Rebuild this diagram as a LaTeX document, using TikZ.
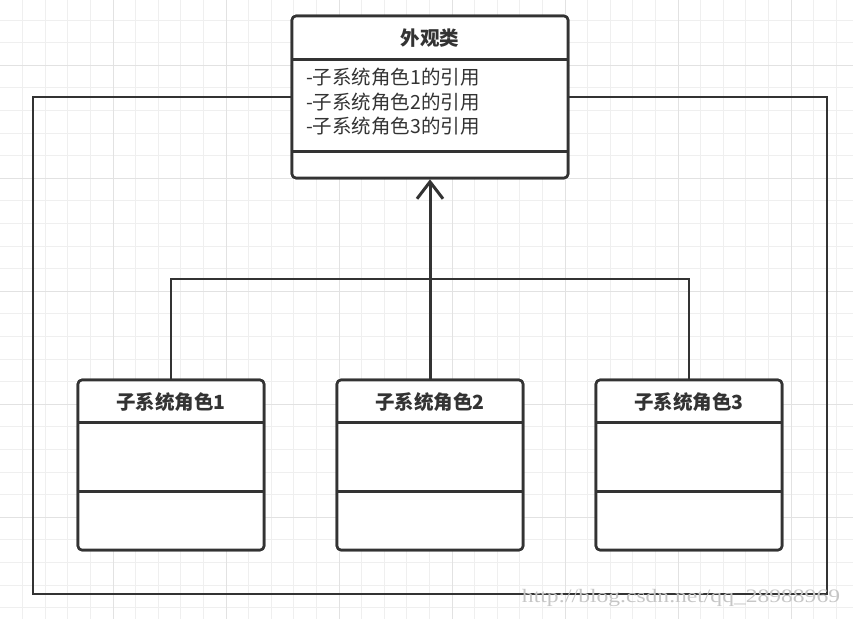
\documentclass[tikz,border=0pt]{standalone}
\usepackage{fontspec}
\setmainfont{Noto Sans CJK SC}
\newfontfamily\markfont[FakeStretch=1.24]{Liberation Serif}
\usetikzlibrary{positioning, arrows.meta}

\definecolor{linegray}{HTML}{333333}
\definecolor{gridminor}{HTML}{EFEFEF}
\definecolor{gridmajor}{HTML}{E2E2E2}

\begin{document}
\begin{tikzpicture}[%
		x=1pt, y=-1pt,
		umlclass/.style={
			rectangle,
			rounded corners=4pt,
			line width=2.6pt,
			draw=linegray,
			fill=white,
			inner sep=0pt,
			minimum width=186pt,
			minimum height=170pt
		},
		facadeclass/.style={
			umlclass,
			minimum width=276pt,
			minimum height=162pt
		},
		classname/.style={
			text=linegray,
			font=\fontsize{19.5}{21}\selectfont\bfseries,
			inner sep=0pt
		},
		attrtext/.style={
			text=linegray,
			font=\fontsize{19.5}{24.5}\selectfont,
			align=left,
			anchor=west,
			inner sep=0pt
		},
		divider/.style={
			line width=2.6pt,
			draw=linegray
		},
		link/.style={
			line width=2.6pt,
			draw=linegray
		},
		inherit/.style={
			line width=3pt,
			draw=linegray,
			-{Straight Barb[length=17pt,width=26pt,line width=3pt]}
		},
		thick]

		\useasboundingbox (0,0) rectangle (853,619);
		\fill[white] (0,0) rectangle (853,619);

		% GRID
		\foreach \i in {1,...,37}
			\draw[gridminor, line width=1pt] (22.6*\i,0) -- (22.6*\i,619);
		\foreach \j in {1,...,27}
			\draw[gridminor, line width=1pt] (0,22.6*\j-2.6) -- (853,22.6*\j-2.6);
		\foreach \i in {5,10,...,35}
			\draw[gridmajor, line width=1pt] (22.6*\i,0) -- (22.6*\i,619);
		\foreach \j in {3,8,...,23}
			\draw[gridmajor, line width=1pt] (0,22.6*\j-2.6) -- (853,22.6*\j-2.6);

		% CLASSES
		\node (facade) [facadeclass] at (430,97) {};
		\node (sub1) [umlclass] at (171,465) {};
		\node (sub2) [umlclass] at (430,465) {};
		\node (sub3) [umlclass] at (689,465) {};

		\coordinate (bl) at (33,594);
		\coordinate (br) at (827,594);
		\coordinate (fork) at (430,279);

		% BOUNDARY
		\draw[link] (facade.west) -| (bl) -- (br) |- (facade.east);

		% LINKS
		\draw[link] (sub1.north) -- (sub1.north |- fork) -- (sub3.north |- fork) -- (sub3.north);
		\draw[inherit] (sub2.north) -- (facade.south);

		% redraw classes on top
		\node [facadeclass] at (facade) {};
		\foreach \s in {sub1,sub2,sub3}
			\node [umlclass] at (\s) {};

		% DIVIDERS
		\draw[divider] ([yshift=-45pt]facade.north west) -- ([yshift=-45pt]facade.north east);
		\draw[divider] ([yshift=28pt]facade.south west) -- ([yshift=28pt]facade.south east);
		\foreach \s in {sub1,sub2,sub3} {
			\draw[divider] ([yshift=-44pt]\s.north west) -- ([yshift=-44pt]\s.north east);
			\draw[divider] ([yshift=60pt]\s.south west) -- ([yshift=60pt]\s.south east);
		}

		% TEXTS
		\node (facade-name) [classname] at ([yshift=-23pt]facade.north) {外观类};
		\node (facade-attr) [attrtext] at ([xshift=15pt,yshift=-5pt]facade.west) {-子系统角色1的引用\\-子系统角色2的引用\\-子系统角色3的引用};
		\node (sub1-name) [classname] at ([yshift=-23pt]sub1.north) {子系统角色1};
		\node (sub2-name) [classname] at ([yshift=-23pt]sub2.north) {子系统角色2};
		\node (sub3-name) [classname] at ([yshift=-23pt]sub3.north) {子系统角色3};

		\node (watermark) [text=gray!45, font=\markfont\fontsize{19}{20}\selectfont, inner sep=0pt] at (681,598) {http://blog.csdn.net/qq\_28988969};
\end{tikzpicture}
\end{document}
